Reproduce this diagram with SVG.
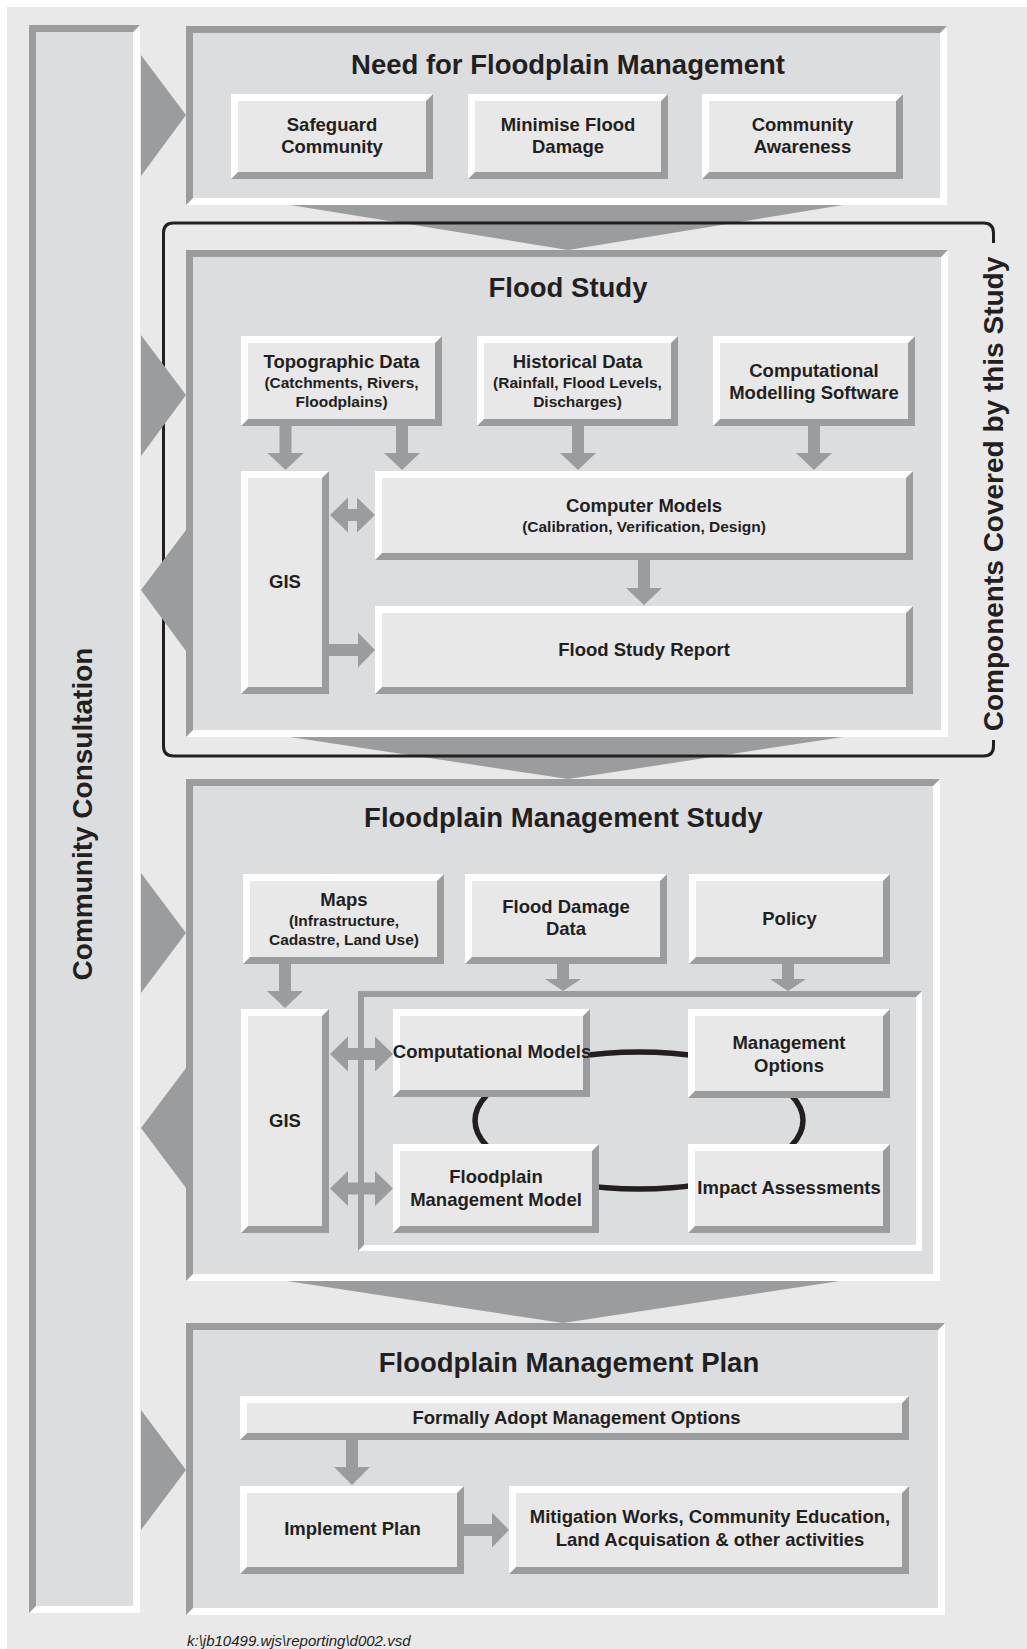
<svg xmlns="http://www.w3.org/2000/svg" width="1027" height="1649" viewBox="0 0 1027 1649">
  <style>
    .bg { fill: #e9e9e9; }
    .hi { fill: #ffffff; }
    .sh { fill: #9b9c9e; }
    .pf { fill: #dcdddf; }
    .nf { fill: #e8e8e8; }
    .ar { fill: #9b9c9e; }
    text { font-family: "Liberation Sans", Arial, sans-serif; font-weight: bold; fill: #231f20; text-anchor: middle; }
    .ttl { font-size: 27.5px; }
    .lbl { font-size: 18.5px; }
    .sub { font-size: 15.5px; }
    .side { font-size: 28px; }
    .foot { font-size: 15px; font-weight: normal; font-style: italic; text-anchor: start; }
    .frame { fill: none; stroke: #231f20; stroke-width: 3; }
    .loop { fill: none; stroke: #231f20; stroke-width: 5.5; }
  </style>

  <rect x="7" y="7" width="1020" height="1642" class="bg"/>

  <!-- Community Consultation column (sunken) -->
  <g id="community-consultation">
    <rect x="29" y="25" width="111" height="1588" class="hi"/>
    <polygon points="29,25 140,25 133,32 36,32 36,1606 29,1613" class="sh"/>
    <rect x="36" y="32" width="97" height="1574" class="pf"/>
    <text class="side" transform="translate(92,814) rotate(-90)">Community Consultation</text>
  </g>

  <!-- Funnels between stages -->
  <g id="funnels" class="ar">
    <polygon points="290,205 843,205 568,250"/>
    <polygon points="290,737 843,737 568,779"/>
    <polygon points="287,1281 840,1281 563,1323"/>
  </g>

  <!-- Stage 1: Need for Floodplain Management -->
  <g id="need">
    <rect x="186" y="26" width="761" height="179" class="hi"/>
    <polygon points="186,26 947,26 940,33 193,33 193,198 186,205" class="sh"/>
    <rect x="193" y="33" width="747" height="165" class="pf"/>
    <text class="ttl" x="568" y="74">Need for Floodplain Management</text>
  </g>
  <g id="safeguard">
    <rect x="231" y="94" width="202" height="85" class="sh"/>
    <polygon points="231,94 433,94 426,101 238,101 238,172 231,179" class="hi"/>
    <rect x="238" y="101" width="188" height="71" class="nf"/>
    <text class="lbl" x="332" y="131">Safeguard</text>
    <text class="lbl" x="332" y="153">Community</text>
  </g>
  <g id="minimise">
    <rect x="468" y="94" width="200" height="85" class="sh"/>
    <polygon points="468,94 668,94 661,101 475,101 475,172 468,179" class="hi"/>
    <rect x="475" y="101" width="186" height="71" class="nf"/>
    <text class="lbl" x="568" y="131">Minimise Flood</text>
    <text class="lbl" x="568" y="153">Damage</text>
  </g>
  <g id="awareness">
    <rect x="702" y="94" width="201" height="85" class="sh"/>
    <polygon points="702,94 903,94 896,101 709,101 709,172 702,179" class="hi"/>
    <rect x="709" y="101" width="187" height="71" class="nf"/>
    <text class="lbl" x="802.5" y="131">Community</text>
    <text class="lbl" x="802.5" y="153">Awareness</text>
  </g>

  <!-- Stage 2: Flood Study -->
  <g id="flood-study">
    <rect x="186" y="250" width="762" height="487" class="hi"/>
    <polygon points="186,250 948,250 941,257 193,257 193,730 186,737" class="sh"/>
    <rect x="193" y="257" width="748" height="473" class="pf"/>
    <text class="ttl" x="568" y="297">Flood Study</text>
  </g>

  <!-- Stage 3: Floodplain Management Study -->
  <g id="fm-study">
    <rect x="186" y="779" width="754" height="502" class="hi"/>
    <polygon points="186,779 940,779 933,786 193,786 193,1274 186,1281" class="sh"/>
    <rect x="193" y="786" width="740" height="488" class="pf"/>
    <text class="ttl" x="563.5" y="827">Floodplain Management Study</text>
  </g>

  <!-- Stage 4: Floodplain Management Plan -->
  <g id="fm-plan">
    <rect x="186" y="1323" width="759" height="292" class="hi"/>
    <polygon points="186,1323 945,1323 938,1330 193,1330 193,1608 186,1615" class="sh"/>
    <rect x="193" y="1330" width="745" height="278" class="pf"/>
    <text class="ttl" x="569" y="1372">Floodplain Management Plan</text>
  </g>

  <!-- Bracket marking the scope of this study -->
  <g id="scope">
    <path class="frame" d="M993.5,243 V233 Q993.5,223 983.5,223 H173.5 Q163.5,223 163.5,233 V746 Q163.5,756 173.5,756 H983.5 Q993.5,756 993.5,746 V740"/>
    <text class="side" transform="translate(1003,494) rotate(-90)">Components Covered by this Study</text>
  </g>

  <!-- Pointers between the consultation column and the stages -->
  <g id="pointers" class="ar">
    <polygon points="141,55 186,115 141,176"/>
    <polygon points="141,335 186,395 141,456"/>
    <polygon points="186,530 141,590 186,651"/>
    <polygon points="141,873 186,933 141,993"/>
    <polygon points="186,1068 141,1128 186,1188"/>
    <polygon points="141,1410 186,1470 141,1530"/>
  </g>

  <!-- Options sub-panel inside the management study -->
  <g id="options-panel">
    <rect x="358" y="991" width="564" height="260" class="hi"/>
    <polygon points="358,991 922,991 916,997 364,997 364,1245 358,1251" class="sh"/>
    <rect x="364" y="997" width="552" height="248" class="pf"/>
    <ellipse class="loop" cx="639" cy="1120.5" rx="164" ry="68.5"/>
  </g>

  <!-- Connectors -->
  <g id="connectors" class="ar">
    <polygon points="279.5,426 291.5,426 291.5,453 303.5,453 285.5,470 267.5,453 279.5,453"/>
    <polygon points="396,426 408,426 408,453 420,453 402,470 384,453 396,453"/>
    <polygon points="572,426 584,426 584,453 596,453 578,470 560,453 572,453"/>
    <polygon points="808,426 820,426 820,453 832,453 814,470 796,453 808,453"/>
    <polygon points="638,560 650,560 650,588 662,588 644,605 626,588 638,588"/>
    <polygon points="329,644 358,644 358,632.5 375,650 358,667.5 358,656 329,656"/>
    <polygon points="330,515 348,497.5 348,509 357,509 357,497.5 375,515 357,532.5 357,521 348,521 348,532.5"/>
    <polygon points="279,964 291,964 291,991 303,991 285,1008 267,991 279,991"/>
    <polygon points="557,964 569,964 569,979 581,979 563,991 545,979 557,979"/>
    <polygon points="782,964 794,964 794,979 806,979 788,991 770,979 782,979"/>
    <polygon points="330,1054 348,1036.5 348,1048 375,1048 375,1036.5 393,1054 375,1071.5 375,1060 348,1060 348,1071.5"/>
    <polygon points="330,1188.5 348,1171 348,1182.5 375,1182.5 375,1171 393,1188.5 375,1206 375,1194.5 348,1194.5 348,1206"/>
    <polygon points="346,1440 358,1440 358,1467 370,1467 352,1485 334,1467 346,1467"/>
    <polygon points="464,1524 492,1524 492,1512.5 509,1530 492,1547.5 492,1536 464,1536"/>
  </g>

  <!-- Flood Study nodes -->
  <g id="topographic">
    <rect x="241" y="336" width="201" height="90" class="sh"/>
    <polygon points="241,336 442,336 435,343 248,343 248,419 241,426" class="hi"/>
    <rect x="248" y="343" width="187" height="76" class="nf"/>
    <text class="lbl" x="341.5" y="368">Topographic Data</text>
    <text class="sub" x="341.5" y="388">(Catchments, Rivers,</text>
    <text class="sub" x="341.5" y="407">Floodplains)</text>
  </g>
  <g id="historical">
    <rect x="477" y="336" width="201" height="90" class="sh"/>
    <polygon points="477,336 678,336 671,343 484,343 484,419 477,426" class="hi"/>
    <rect x="484" y="343" width="187" height="76" class="nf"/>
    <text class="lbl" x="577.5" y="368">Historical Data</text>
    <text class="sub" x="577.5" y="388">(Rainfall, Flood Levels,</text>
    <text class="sub" x="577.5" y="407">Discharges)</text>
  </g>
  <g id="software">
    <rect x="713" y="336" width="202" height="90" class="sh"/>
    <polygon points="713,336 915,336 908,343 720,343 720,419 713,426" class="hi"/>
    <rect x="720" y="343" width="188" height="76" class="nf"/>
    <text class="lbl" x="814" y="377">Computational</text>
    <text class="lbl" x="814" y="399">Modelling Software</text>
  </g>
  <g id="gis-1">
    <rect x="241" y="471" width="88" height="223" class="sh"/>
    <polygon points="241,471 329,471 322,478 248,478 248,687 241,694" class="hi"/>
    <rect x="248" y="478" width="74" height="209" class="nf"/>
    <text class="lbl" x="285" y="588">GIS</text>
  </g>
  <g id="computer-models">
    <rect x="375" y="471" width="538" height="89" class="sh"/>
    <polygon points="375,471 913,471 906,478 382,478 382,553 375,560" class="hi"/>
    <rect x="382" y="478" width="524" height="75" class="nf"/>
    <text class="lbl" x="644" y="512">Computer Models</text>
    <text class="sub" x="644" y="532">(Calibration, Verification, Design)</text>
  </g>
  <g id="report">
    <rect x="375" y="606" width="538" height="88" class="sh"/>
    <polygon points="375,606 913,606 906,613 382,613 382,687 375,694" class="hi"/>
    <rect x="382" y="613" width="524" height="74" class="nf"/>
    <text class="lbl" x="644" y="656">Flood Study Report</text>
  </g>

  <!-- Floodplain Management Study nodes -->
  <g id="maps">
    <rect x="243" y="874" width="201" height="90" class="sh"/>
    <polygon points="243,874 444,874 437,881 250,881 250,957 243,964" class="hi"/>
    <rect x="250" y="881" width="187" height="76" class="nf"/>
    <text class="lbl" x="344" y="906">Maps</text>
    <text class="sub" x="344" y="926">(Infrastructure,</text>
    <text class="sub" x="344" y="945">Cadastre, Land Use)</text>
  </g>
  <g id="damage-data">
    <rect x="465" y="874" width="202" height="90" class="sh"/>
    <polygon points="465,874 667,874 660,881 472,881 472,957 465,964" class="hi"/>
    <rect x="472" y="881" width="188" height="76" class="nf"/>
    <text class="lbl" x="566" y="913">Flood Damage</text>
    <text class="lbl" x="566" y="935">Data</text>
  </g>
  <g id="policy">
    <rect x="689" y="874" width="201" height="90" class="sh"/>
    <polygon points="689,874 890,874 883,881 696,881 696,957 689,964" class="hi"/>
    <rect x="696" y="881" width="187" height="76" class="nf"/>
    <text class="lbl" x="789.5" y="925">Policy</text>
  </g>
  <g id="gis-2">
    <rect x="241" y="1009" width="88" height="224" class="sh"/>
    <polygon points="241,1009 329,1009 322,1016 248,1016 248,1226 241,1233" class="hi"/>
    <rect x="248" y="1016" width="74" height="210" class="nf"/>
    <text class="lbl" x="285" y="1127">GIS</text>
  </g>
  <g id="computational-models">
    <rect x="393" y="1009" width="197" height="88" class="sh"/>
    <polygon points="393,1009 590,1009 583,1016 400,1016 400,1090 393,1097" class="hi"/>
    <rect x="400" y="1016" width="183" height="74" class="nf"/>
    <text class="lbl" x="492" y="1058">Computational Models</text>
  </g>
  <g id="management-options">
    <rect x="688" y="1009" width="202" height="89" class="sh"/>
    <polygon points="688,1009 890,1009 883,1016 695,1016 695,1091 688,1098" class="hi"/>
    <rect x="695" y="1016" width="188" height="75" class="nf"/>
    <text class="lbl" x="789" y="1049">Management</text>
    <text class="lbl" x="789" y="1072">Options</text>
  </g>
  <g id="fm-model">
    <rect x="393" y="1144" width="206" height="89" class="sh"/>
    <polygon points="393,1144 599,1144 592,1151 400,1151 400,1226 393,1233" class="hi"/>
    <rect x="400" y="1151" width="192" height="75" class="nf"/>
    <text class="lbl" x="496" y="1183">Floodplain</text>
    <text class="lbl" x="496" y="1206">Management Model</text>
  </g>
  <g id="impact">
    <rect x="688" y="1144" width="202" height="89" class="sh"/>
    <polygon points="688,1144 890,1144 883,1151 695,1151 695,1226 688,1233" class="hi"/>
    <rect x="695" y="1151" width="188" height="75" class="nf"/>
    <text class="lbl" x="789" y="1194">Impact Assessments</text>
  </g>

  <!-- Floodplain Management Plan nodes -->
  <g id="adopt">
    <rect x="240" y="1396" width="669" height="44" class="sh"/>
    <polygon points="240,1396 909,1396 902,1403 247,1403 247,1433 240,1440" class="hi"/>
    <rect x="247" y="1403" width="655" height="30" class="nf"/>
    <text class="lbl" x="576.5" y="1424">Formally Adopt Management Options</text>
  </g>
  <g id="implement">
    <rect x="240" y="1486" width="224" height="88" class="sh"/>
    <polygon points="240,1486 464,1486 457,1493 247,1493 247,1567 240,1574" class="hi"/>
    <rect x="247" y="1493" width="210" height="74" class="nf"/>
    <text class="lbl" x="352.5" y="1535">Implement Plan</text>
  </g>
  <g id="mitigation">
    <rect x="509" y="1486" width="400" height="88" class="sh"/>
    <polygon points="509,1486 909,1486 902,1493 516,1493 516,1567 509,1574" class="hi"/>
    <rect x="516" y="1493" width="386" height="74" class="nf"/>
    <text class="lbl" x="710" y="1523">Mitigation Works, Community Education,</text>
    <text class="lbl" x="710" y="1546">Land Acquisation &amp; other activities</text>
  </g>

  <text class="foot" x="187" y="1646">k:\jb10499.wjs\reporting\d002.vsd</text>
</svg>
